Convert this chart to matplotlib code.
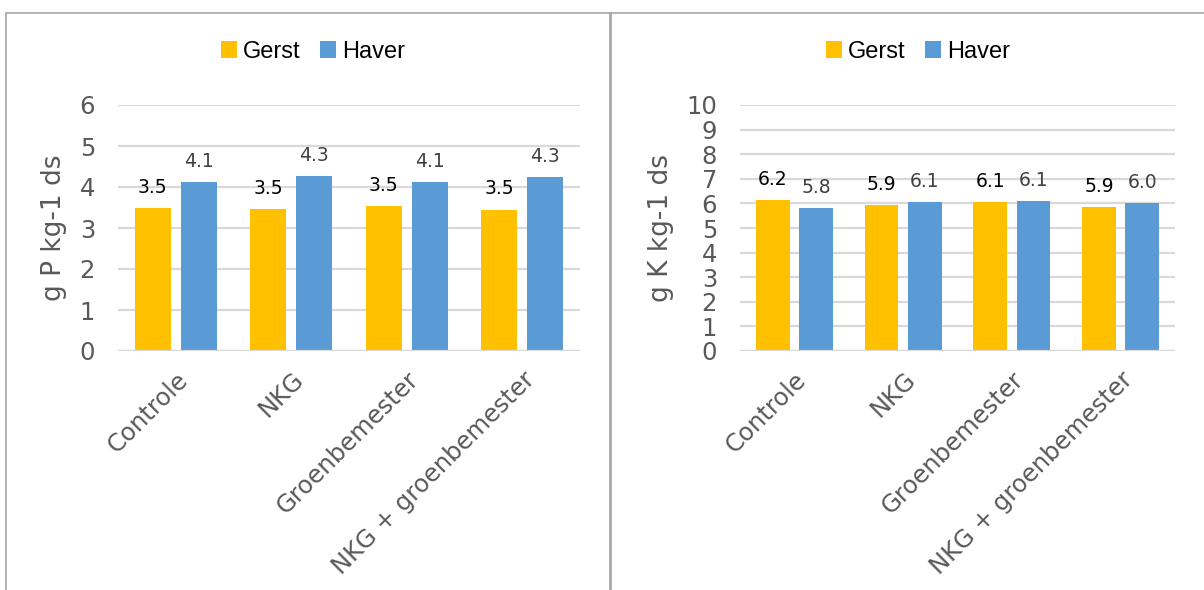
import numpy as np
import matplotlib.pyplot as plt
from matplotlib.patches import Rectangle

# --- DATA ---
categories = ['Controle', 'NKG', 'Groenbemester', 'NKG + groenbemester']
series_names = ['Gerst', 'Haver']
p_gerst = [3.48, 3.46, 3.53, 3.45]
p_haver = [4.12, 4.27, 4.12, 4.25]
p_gerst_lbl = ['3.5', '3.5', '3.5', '3.5']
p_haver_lbl = ['4.1', '4.3', '4.1', '4.3']
k_gerst = [6.15, 5.93, 6.07, 5.85]
k_haver = [5.82, 6.05, 6.08, 6.03]
k_gerst_lbl = ['6.2', '5.9', '6.1', '5.9']
k_haver_lbl = ['5.8', '6.1', '6.1', '6.0']

COL_GERST = '#FFC000'
COL_HAVER = '#5B9BD5'
GRID = '#D9D9D9'
TXT = '#595959'
FONT = 'DejaVu Sans'

plt.rcParams['font.family'] = [FONT]

fig = plt.figure(figsize=(12.04, 5.90), dpi=100)
W, H = 1204, 590

# panel borders
for x0, x1 in [(6, 611), (610, 1210)]:
    fig.add_artist(Rectangle((x0 / W, -0.05), (x1 - x0) / W, (H - 13) / H + 0.05,
                             transform=fig.transFigure, fill=False,
                             edgecolor='#A6A6A6', lw=1.2))


def panel(rect, gerst, haver, gl, hl, ymax, ylabel, legend_x):
    ax = fig.add_axes(rect)
    x = np.arange(len(categories))
    bw = 0.31
    off = (bw + 0.087) / 2
    b1 = ax.bar(x - off, gerst, bw, color=COL_GERST, label=series_names[0], zorder=3)
    b2 = ax.bar(x + off, haver, bw, color=COL_HAVER, label=series_names[1], zorder=3)
    ax.bar_label(b1, labels=gl, padding=8, fontsize=13.5, color='black', family=FONT)
    ax.bar_label(b2, labels=hl, padding=8, fontsize=13.5, color='#404040', family=FONT)
    ax.set_xlim(-0.5, len(categories) - 0.5)
    ax.set_ylim(0, ymax)
    ax.set_yticks(range(0, ymax + 1))
    ax.set_yticklabels([str(v) for v in range(0, ymax + 1)], family=FONT, fontsize=17.5,
                       color=TXT)
    ax.yaxis.grid(True, color=GRID, lw=1.6, zorder=0)
    for s in ax.spines.values():
        s.set_visible(False)
    ax.axhline(0, color=GRID, lw=1.6, zorder=4)
    ax.tick_params(axis='y', length=0, pad=16.5)
    ax.tick_params(axis='x', length=0, pad=12)
    ax.set_xticks(x)
    ax.set_xticklabels(categories, rotation=45, ha='right', rotation_mode='anchor',
                       fontsize=17.5, color=TXT, family=FONT)
    ax.set_ylabel(ylabel, fontsize=19, color=TXT, labelpad=9, family=FONT)
    fig.legend(handles=[b1, b2], loc='center', bbox_to_anchor=(legend_x, 1 - 52 / H),
               ncol=2, frameon=False, prop={'family': 'Liberation Sans', 'size': 17},
               handlelength=0.7, handleheight=0.7,
               handletextpad=0.25, columnspacing=0.8)
    return ax


panel([118 / W, 1 - 351 / H, 462 / W, 246 / H], p_gerst, p_haver, p_gerst_lbl, p_haver_lbl,
      6, 'g P kg-1 ds', 313 / W)
panel([740 / W, 1 - 351 / H, 435 / W, 246 / H], k_gerst, k_haver, k_gerst_lbl, k_haver_lbl,
      10, 'g K kg-1 ds', 918 / W)

fig.savefig('out.png', dpi=100)
